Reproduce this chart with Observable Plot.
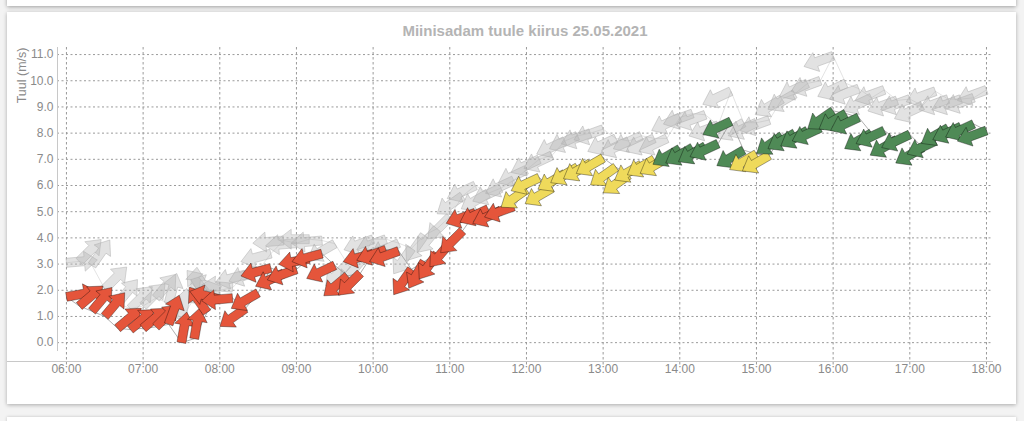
<!DOCTYPE html>
<html>
<head>
<meta charset="utf-8">
<script src="https://cdn.jsdelivr.net/npm/d3@7"></script>
<script src="https://cdn.jsdelivr.net/npm/@observablehq/plot@0.6"></script>
<style>
html, body { margin:0; padding:0; width:1024px; height:421px; overflow:hidden; background:#f3f3f3;
  font-family:"Liberation Sans", Arial, Helvetica, sans-serif; }
#topcard { position:absolute; left:7px; top:-12px; width:1009px; height:18px; background:#fff; box-shadow:0 1px 4px rgba(0,0,0,0.35); }
#card { position:absolute; left:7px; top:12px; width:1009px; height:392px; background:#fff; box-shadow:0 1px 4px rgba(0,0,0,0.3); }
#botcard { position:absolute; left:7px; top:417px; width:1009px; height:40px; background:#fff; box-shadow:0 0 3px rgba(0,0,0,0.2); }
#xline { position:absolute; left:7px; top:361px; width:986px; height:1px; background:#c8c8c8; }
#title { position:absolute; left:57px; width:936px; top:22px; text-align:center; font-size:15px; font-weight:bold; color:#b4b4b4; }
#chart { position:absolute; left:0; top:0; }
</style>
</head>
<body>
<div id="topcard"></div>
<div id="card"></div>
<div id="botcard"></div>
<div id="xline"></div>
<div id="title">Miinisadam tuule kiirus 25.05.2021</div>
<div id="chart"></div>
<script>
// time of each observation
const times = ["06:00","06:10","06:20","06:30","06:40","06:50","07:00","07:10","07:20","07:30","07:40","07:50",
  "08:00","08:10","08:20","08:30","08:40","08:50","09:00","09:10","09:20","09:30","09:40","09:50",
  "10:00","10:10","10:20","10:30","10:40","10:50","11:00","11:10","11:20","11:30","11:40","11:50",
  "12:00","12:10","12:20","12:30","12:40","12:50","13:00","13:10","13:20","13:30","13:40","13:50",
  "14:00","14:10","14:20","14:30","14:40","14:50","15:00","15:10","15:20","15:30","15:40","15:50",
  "16:00","16:10","16:20","16:30","16:40","16:50","17:00","17:10","17:20","17:30","17:40","17:50","18:00"];

// average wind speed (m/s)
const speed = [1.75,1.4,1.2,1.0,0.55,0.5,0.55,0.6,0.7,0.0,0.15,1.15,
  1.65,1.7,1.3,1.9,2.85,2.65,2.8,3.2,3.4,2.95,2.55,2.65,
  3.4,3.55,3.5,2.8,3.1,3.4,3.8,4.27,4.96,5.1,5.05,5.2,
  5.85,6.3,5.9,6.45,6.7,6.85,7.05,6.7,6.4,6.8,7.0,7.05,
  7.4,7.45,7.5,7.6,8.45,7.35,7.2,7.15,7.9,8.0,8.1,8.2,
  8.85,8.75,8.6,8.0,8.1,7.75,7.95,7.45,7.7,8.2,8.25,8.35,8.1];

// wind direction (degrees, where the wind comes from)
const speedDir = [260,230,220,220,230,230,230,225,200,190,190,145,
  105,85,55,60,75,65,70,80,75,65,50,45,
  75,70,70,35,30,35,40,45,70,65,65,70,
  55,65,60,60,60,60,60,55,55,60,60,60,
  60,60,60,65,65,60,60,60,55,60,60,65,
  55,60,65,60,65,60,65,60,65,60,65,65,70];

// gust speed (m/s)
const gust = [3.05,3.1,2.95,2.05,1.5,1.3,1.4,1.7,1.5,0.9,1.7,1.85,
  2.0,2.1,2.6,2.75,3.4,3.9,3.8,3.95,3.9,3.78,3.0,3.1,
  3.95,3.95,3.8,3.6,4.1,4.35,4.8,5.6,6.0,5.7,5.9,6.2,
  6.6,7.0,7.15,7.7,7.9,8.0,8.15,7.8,7.7,7.9,7.8,7.8,
  8.6,8.75,8.7,8.3,9.6,8.4,8.4,8.5,9.3,9.5,9.9,10.0,
  10.95,9.9,9.7,9.35,9.65,9.25,9.3,9.05,9.6,9.3,9.3,9.35,9.65];

// gust direction (degrees, where the wind comes from)
const gustDir = [265,225,215,225,220,225,225,220,195,190,185,140,
  110,95,75,70,75,85,85,90,85,60,45,40,
  70,70,65,35,35,40,45,55,65,60,65,65,
  65,65,65,65,65,70,70,65,65,65,65,65,
  65,70,70,70,65,60,65,70,60,60,65,70,
  70,65,70,65,70,70,70,65,70,70,70,70,70];

const yTicks = [0,1,2,3,4,5,6,7,8,9,10,11];
const xTickLabels = ["06:00","07:00","08:00","09:00","10:00","11:00","12:00","13:00","14:00","15:00","16:00","17:00","18:00"];
const yLabel = "Tuul (m/s)";

const toDate = s => { const [h, m] = s.split(":").map(Number); return new Date(Date.UTC(2021, 4, 25, h, m)); };
const speedRows = times.map((t, i) => ({t: toDate(t), v: speed[i], dir: speedDir[i]}));
const gustRows = times.map((t, i) => ({t: toDate(t), v: gust[i], dir: gustDir[i]}));
const xTicks = xTickLabels.map(toDate);

// block arrow, tail at the origin, pointing up before rotation
const arrow = {
  draw(ctx) {
    const L = 31, hl = 13, hw = 10, sw = 4.5;
    ctx.moveTo(-sw, 0);
    ctx.lineTo(-sw, -(L - hl));
    ctx.lineTo(-hw, -(L - hl));
    ctx.lineTo(0, -L);
    ctx.lineTo(hw, -(L - hl));
    ctx.lineTo(sw, -(L - hl));
    ctx.lineTo(sw, 0);
    ctx.closePath();
  }
};

const xDomain = [new Date(Date.UTC(2021,4,25,5,53)), new Date(Date.UTC(2021,4,25,18,5,30))];
const yDomain = [-0.3, 11.27];

const chart = Plot.plot({
  width: 1024, height: 421,
  marginLeft: 57, marginRight: 31, marginTop: 47, marginBottom: 71,
  style: {background: "transparent", fontFamily: "'Liberation Sans', Arial, Helvetica, sans-serif", fontSize: "12px", color: "#8a8a8a", overflow: "visible"},
  x: {type: "utc", domain: xDomain},
  y: {domain: yDomain},
  color: {type: "threshold", domain: [5.5, 7.25], range: ["#e5553b", "#efda5b", "#4f8a56"]},
  marks: [
    Plot.ruleY(yTicks, {stroke: "#9a9a9a", strokeDasharray: "2,2.5", strokeWidth: 1}),
    Plot.ruleX(xTicks, {y1: yDomain[1], y2: -0.95, stroke: "#9a9a9a", strokeDasharray: "2.5,2.5", strokeWidth: 1}),
    Plot.frame({anchor: "left", stroke: "#c8c8c8"}),
    Plot.axisY({ticks: yTicks, tickFormat: d => d.toFixed(1), tickSize: 0, tickPadding: 4, label: null}),
    Plot.axisX({ticks: xTicks, tickFormat: d3.utcFormat("%H:%M"), tickSize: 0, tickPadding: 14, label: null}),
    Plot.text([yLabel], {frameAnchor: "top-left", dx: -40, rotate: -90, textAnchor: "end", fill: "#8a8a8a", fontSize: 12.5}),
    Plot.line(gustRows, {x: "t", y: "v", stroke: "#dcdcdc", strokeWidth: 0.8}),
    Plot.dot(gustRows, {x: "t", y: "v", rotate: d => d.dir + 180, symbol: arrow, fill: "#b3b3b3", fillOpacity: 0.38, stroke: "#b0b0b0", strokeOpacity: 0.6, strokeWidth: 0.8}),
    Plot.line(speedRows, {x: "t", y: "v", stroke: "#9a9a9a", strokeWidth: 0.8}),
    Plot.dot(speedRows, {x: "t", y: "v", rotate: d => d.dir + 180, symbol: arrow, fill: d => d.v, stroke: "#000", strokeOpacity: 0.4, strokeWidth: 0.8})
  ]
});
document.getElementById("chart").appendChild(chart);
</script>
</body>
</html>
